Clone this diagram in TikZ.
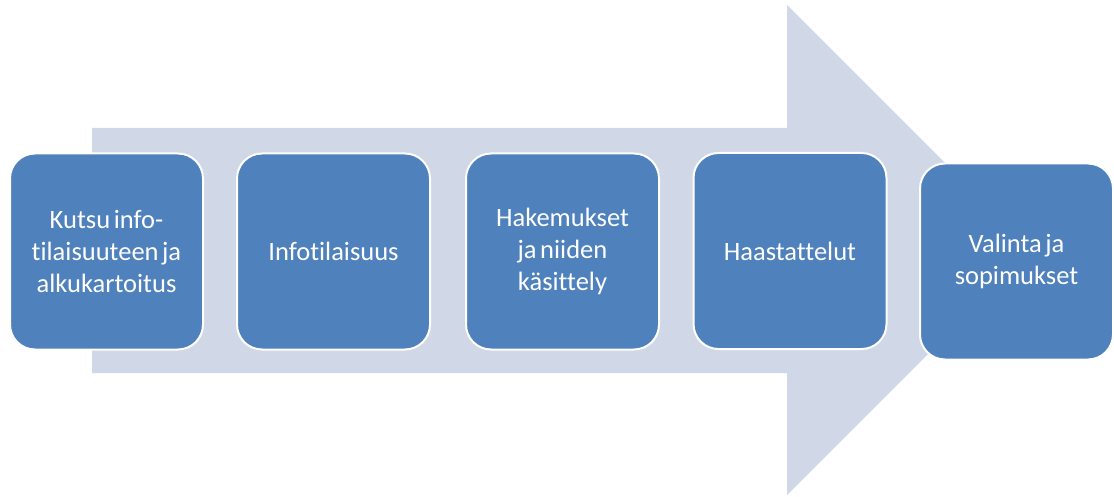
\documentclass[tikz,border=0pt]{standalone}
\usepackage{fontspec}
\setmainfont[Ligatures={NoCommon}, WordSpace=0.6]{Carlito}
\definecolor{stepblue}{HTML}{4F81BD}
\definecolor{arrowgrey}{HTML}{D0D8E8}
\begin{document}
\begin{tikzpicture}[x=1pt,y=-1pt,
  stepbox/.style={draw=white, line width=2pt, fill=stepblue, rounded corners=25pt,
    minimum width=193pt, minimum height=196pt, align=center,
    text=white, font=\fontsize{26.5}{32}\selectfont, inner sep=0pt}]
  % canvas
  \fill[white] (0,0) rectangle (1114,497);
  \useasboundingbox (0,0) rectangle (1114,497);
  % wide background arrow
  \fill[arrowgrey] (92,128) -- (787,128) -- (787,5) -- (1032,250) -- (787,495)
    -- (787,373) -- (92,373) -- cycle;
  % process steps
  \node[stepbox] (s1) at (106.5,251.5) {Kutsu info-\\tilaisuuteen ja\\alkukartoitus};
  \node[stepbox] (s2) at (333.5,251.5) {Infotilaisuus};
  \node[stepbox] (s3) at (562.5,251.5) {Hakemukset\\ja niiden\\käsittely};
  \node[stepbox] (s4) at (790,251) {Haastattelut};
  \node[stepbox] (s5) at (1016.5,261.5) {Valinta ja\\sopimukset};
\end{tikzpicture}
\end{document}
